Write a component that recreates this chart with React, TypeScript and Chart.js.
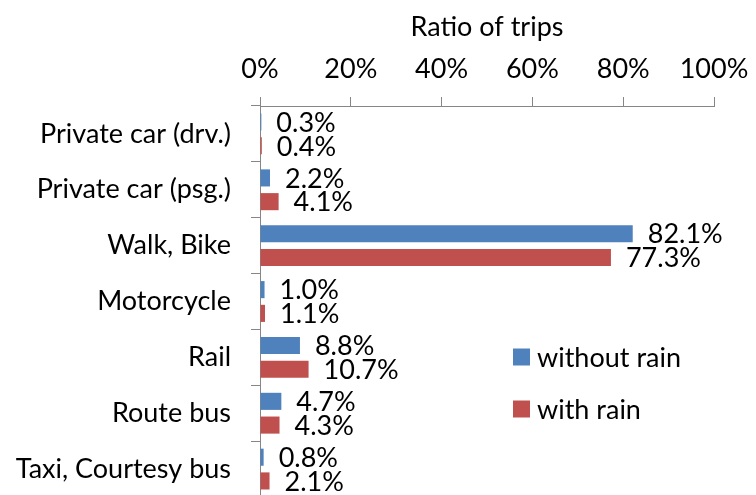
import React, { useEffect, useRef } from "react";
import { Chart, registerables } from "chart.js";

Chart.register(...registerables);

const categories = [
  "Private car (drv.)",
  "Private car (psg.)",
  "Walk, Bike",
  "Motorcycle",
  "Rail",
  "Route bus",
  "Taxi, Courtesy bus",
];
const withoutRain = [0.3, 2.2, 82.1, 1.0, 8.8, 4.7, 0.8];
const withRain = [0.4, 4.1, 77.3, 1.1, 10.7, 4.3, 2.1];
const seriesNames = ["without rain", "with rain"];
const xTicks = [0, 20, 40, 60, 80, 100];

const BLUE = "#4F81BD";
const RED = "#C0504D";
const AXIS = "#868686";
const FONT = "Lato";
const FS = 27;

const labelPlugin = {
  id: "valueLabels",
  afterDatasetsDraw(chart: any) {
    const ctx = chart.ctx;
    ctx.save();
    ctx.font = `${FS}px ${FONT}`;
    ctx.fillStyle = "#000";
    ctx.textAlign = "left";
    ctx.textBaseline = "middle";
    chart.data.datasets.forEach((ds: any, i: number) => {
      const meta = chart.getDatasetMeta(i);
      meta.data.forEach((el: any, j: number) => {
        ctx.fillText(ds.data[j].toFixed(1) + "%", el.x + 15, el.y + 1);
      });
    });
    ctx.restore();
  },
};

const legendPlugin = {
  id: "customLegend",
  afterDraw(chart: any) {
    const ctx = chart.ctx;
    ctx.save();
    ctx.font = `${FS}px ${FONT}`;
    ctx.textAlign = "left";
    ctx.textBaseline = "middle";
    const colors = [BLUE, RED];
    const ys = [357, 409];
    seriesNames.forEach((name, i) => {
      ctx.fillStyle = colors[i];
      ctx.fillRect(513, ys[i] - 8.5, 17, 17);
      ctx.fillStyle = "#000";
      ctx.fillText(name, 537, ys[i] + 1);
    });
    ctx.restore();
  },
};

export default function App() {
  const ref = useRef<HTMLCanvasElement>(null);
  useEffect(() => {
    if (!ref.current) return;
    const chart = new Chart(ref.current, {
      type: "bar",
      data: {
        labels: categories,
        datasets: [
          {
            label: seriesNames[0],
            data: withoutRain,
            backgroundColor: BLUE,
            categoryPercentage: 0.85,
            barPercentage: 0.72,
          },
          {
            label: seriesNames[1],
            data: withRain,
            backgroundColor: RED,
            categoryPercentage: 0.85,
            barPercentage: 0.72,
          },
        ],
      },
      options: {
        indexAxis: "y",
        responsive: false,
        animation: false,
        layout: { padding: { left: 0, right: 42, top: 0, bottom: 3 } },
        plugins: {
          legend: { display: false },
          tooltip: { enabled: false },
        },
        scales: {
          x: {
            position: "top",
            min: 0,
            max: 100,
            afterBuildTicks: (scale: any) => {
              scale.ticks = xTicks.map((v) => ({ value: v }));
            },
            afterFit: (scale: any) => {
              scale.height = 106;
              scale.paddingLeft = 0;
              scale.paddingRight = 0;
              scale.paddingTop = 0;
              scale.paddingBottom = 0;
            },
            ticks: {
              callback: (v: any) => v + "%",
              color: "#000",
              font: { family: FONT, size: FS },
              padding: 12,
              maxRotation: 0,
            },
            grid: {
              drawOnChartArea: false,
              drawTicks: true,
              tickLength: 9,
              color: AXIS,
            },
            border: { color: AXIS, width: 1 },
            title: {
              display: true,
              text: "Ratio of trips",
              color: "#000",
              font: { family: FONT, size: FS },
              padding: { top: 11, bottom: 0 },
            },
          },
          y: {
            afterFit: (scale: any) => {
              scale.width = 260;
              scale.paddingLeft = 0;
              scale.paddingRight = 0;
              scale.paddingTop = 0;
              scale.paddingBottom = 0;
            },
            ticks: {
              color: "#000",
              font: { family: FONT, size: FS },
              padding: 20,
            },
            grid: {
              drawOnChartArea: false,
              drawTicks: true,
              tickLength: 9,
              color: AXIS,
            },
            border: { color: AXIS, width: 1 },
          },
        },
      },
      plugins: [labelPlugin, legendPlugin],
    } as any);
    return () => chart.destroy();
  }, []);
  return (
    <div
      style={{
        position: "fixed",
        left: 0,
        top: 0,
        width: 756,
        height: 495,
        overflow: "hidden",
        background: "#fff",
      }}
    >
      <canvas ref={ref} width={756} height={500} style={{ display: "block" }} />
    </div>
  );
}
